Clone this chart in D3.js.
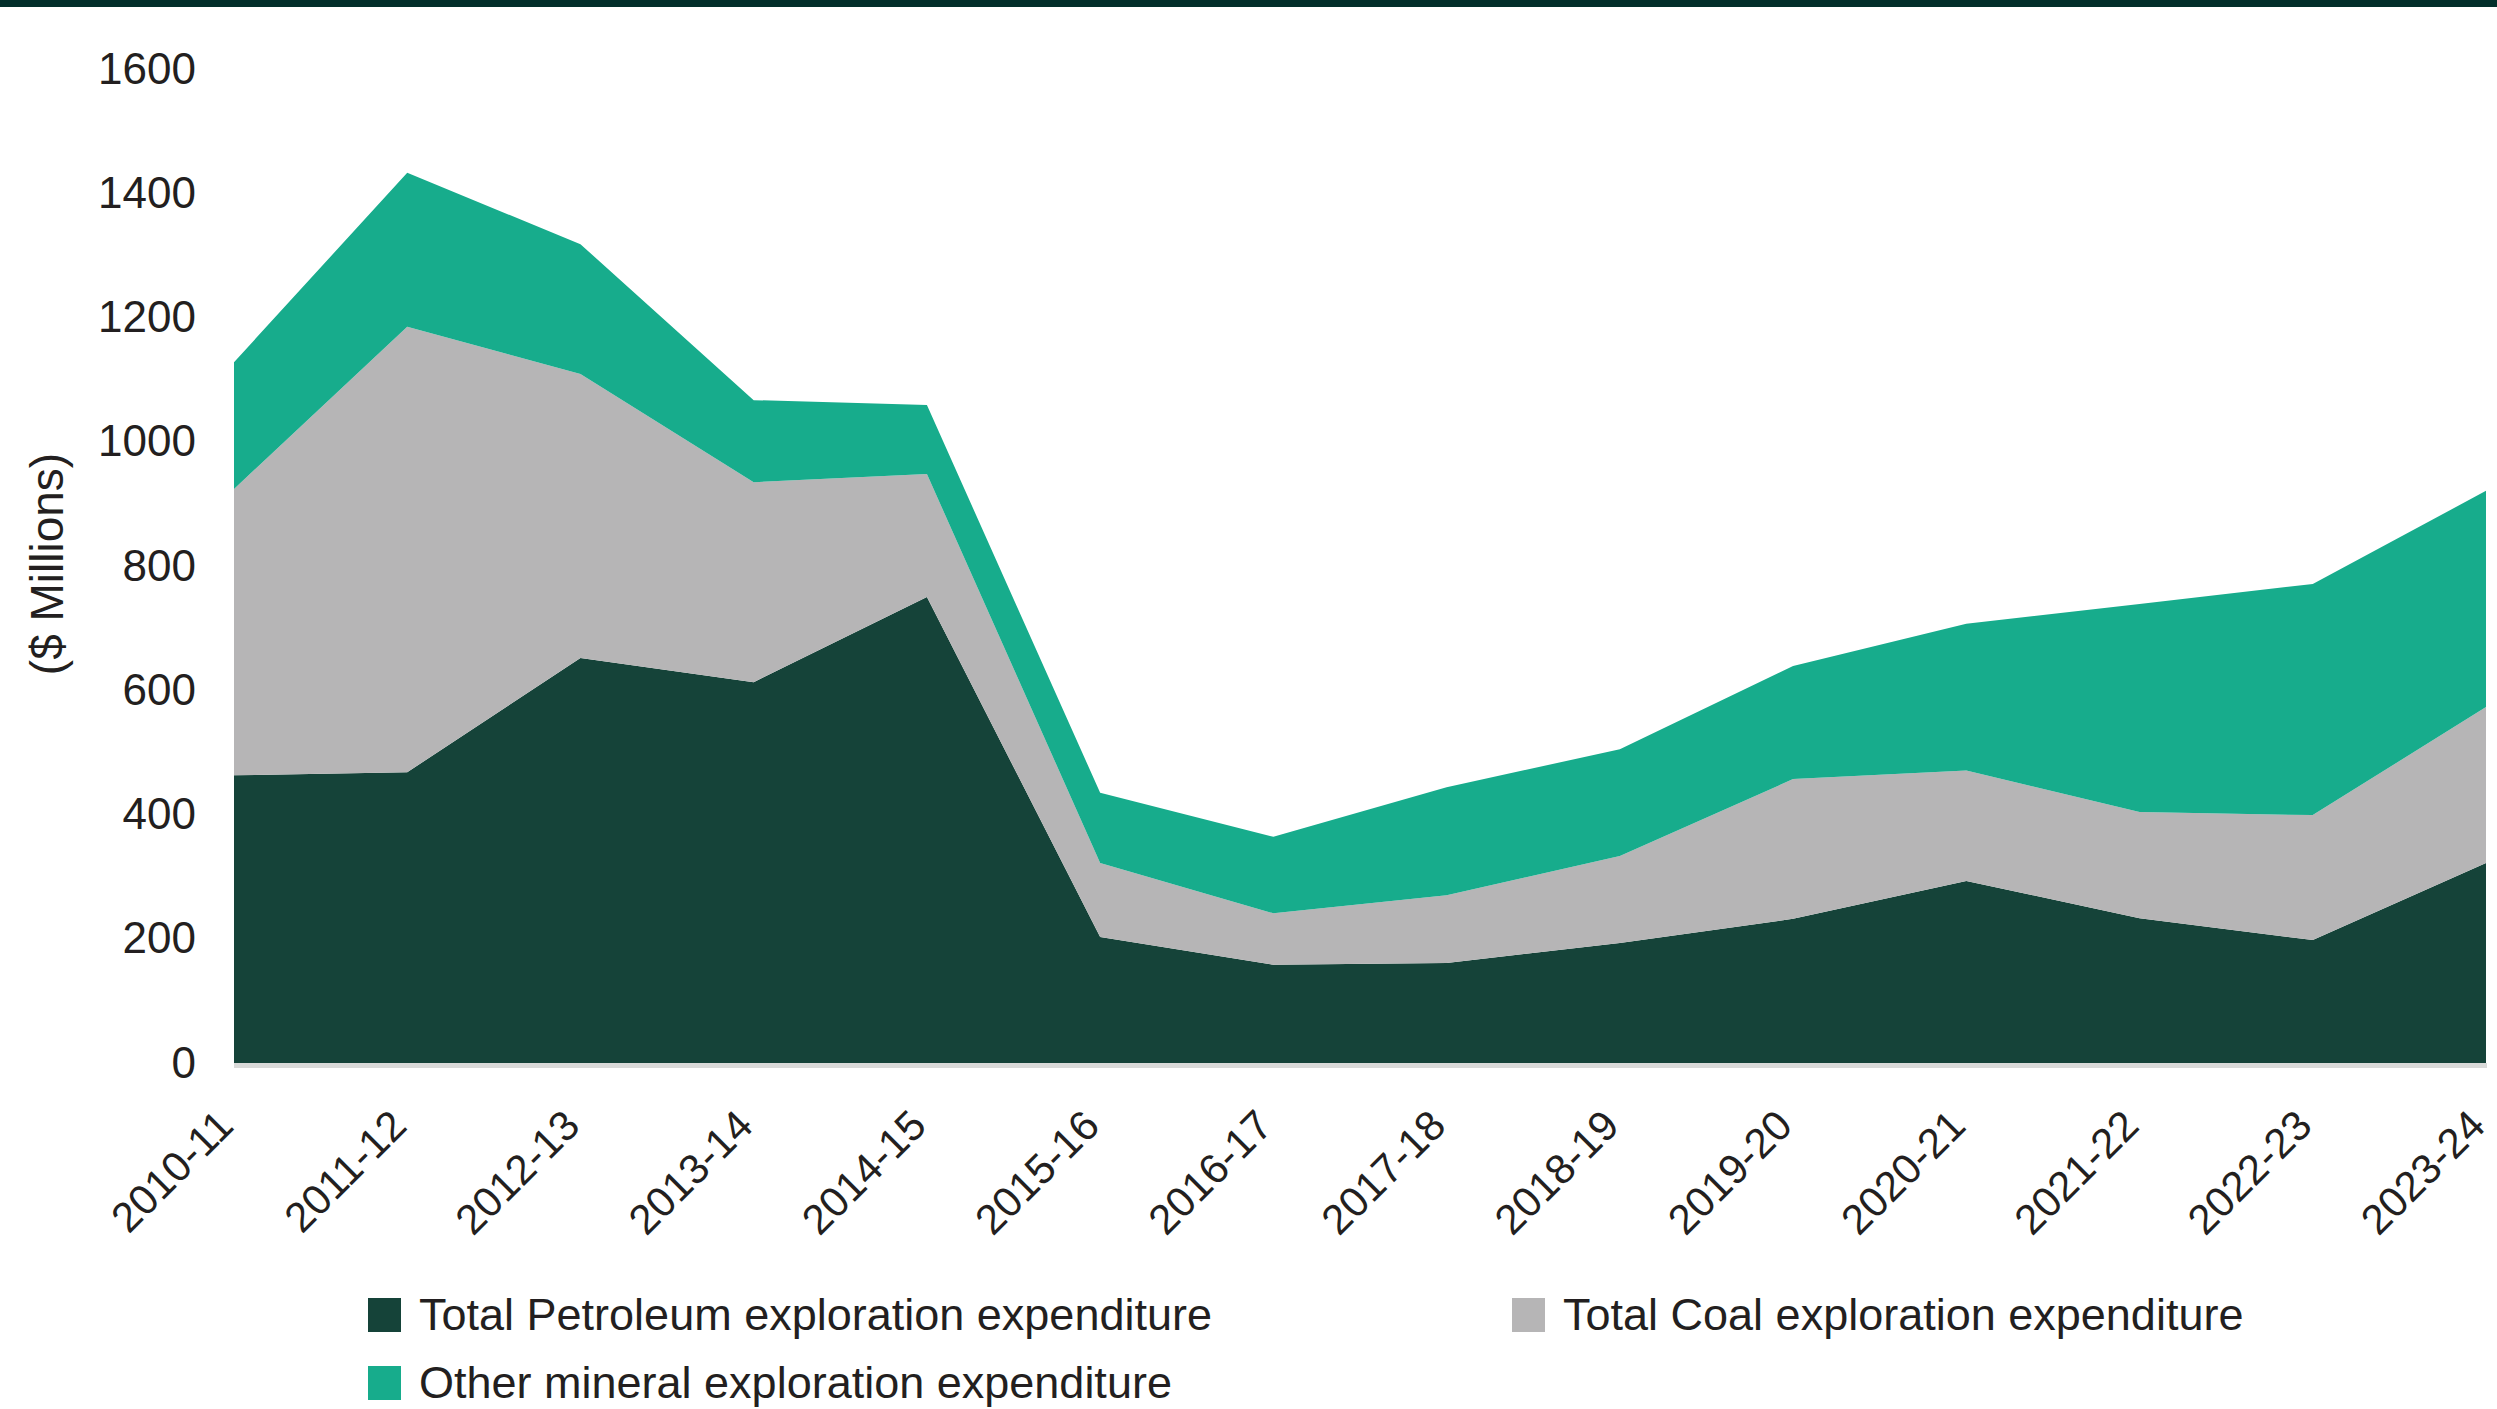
<!DOCTYPE html>
<html>
<head>
<meta charset="utf-8">
<script src="https://cdn.jsdelivr.net/npm/d3@7"></script>
<style>
  html, body { margin: 0; padding: 0; background: #ffffff; }
  svg { display: block; }
  text { font-family: "Liberation Sans", Arial, sans-serif; fill: #231f20; }
</style>
</head>
<body>
<svg id="chart" width="2497" height="1409"></svg>
<script>
// ---- Data (values in $ Millions) ----
const categories = ["2010-11","2011-12","2012-13","2013-14","2014-15","2015-16","2016-17",
                    "2017-18","2018-19","2019-20","2020-21","2021-22","2022-23","2023-24"];
const petroleum = [463, 468, 652, 613, 750, 203, 158, 161, 193, 232, 293, 233, 198, 322];
const coal      = [461, 717, 457, 322, 198, 119,  83, 109, 140, 225, 178, 171, 201, 251];
const other     = [204, 248, 209, 132, 111, 113, 123, 174, 172, 182, 236, 335, 372, 348];
const yTicks    = [0, 200, 400, 600, 800, 1000, 1200, 1400, 1600];
const seriesNames = ["Total Petroleum exploration expenditure",
                     "Total Coal exploration expenditure",
                     "Other mineral exploration expenditure"];
const seriesKeys = ["petroleum", "coal", "other"];
const seriesColors = ["#154339", "#b6b5b6", "#17ac8c"];
const yTitle = "($ Millions)";

// ---- Build table ----
const table = categories.map((c, i) => ({
  cat: c, petroleum: petroleum[i], coal: coal[i], other: other[i]
}));

const svg = d3.select("#chart");

// Top band
svg.append("rect").attr("x", 0).attr("y", 0).attr("width", 2497).attr("height", 7)
   .attr("fill", "#032f2b");

const x = d3.scalePoint().domain(categories).range([234, 2486]);
const y = d3.scaleLinear().domain([0, 1600]).range([1063, 69]);
const color = d3.scaleOrdinal().domain(seriesKeys).range(seriesColors);

const stacked = d3.stack().keys(seriesKeys)(table);
const area = d3.area()
  .x(d => x(d.data.cat))
  .y0(d => y(d[0]))
  .y1(d => y(d[1]));

svg.append("g").selectAll("path").data(stacked).join("path")
  .attr("d", area)
  .attr("fill", d => color(d.key));

// X axis base line
svg.append("line")
  .attr("x1", x.range()[0]).attr("x2", x.range()[1] + 1)
  .attr("y1", y(0) + 2.5).attr("y2", y(0) + 2.5)
  .attr("stroke", "#d9dad9").attr("stroke-width", 5);

// Y axis
const yAxis = svg.append("g")
  .attr("transform", `translate(${x.range()[0]},0)`)
  .call(d3.axisLeft(y).tickValues(yTicks).tickFormat(d3.format("d")).tickSize(0).tickPadding(38));
yAxis.select(".domain").remove();
yAxis.selectAll("text")
  .style("font-family", "'Liberation Sans', Arial, sans-serif")
  .style("font-size", "44px").attr("fill", "#231f20");

// X axis
const xAxis = svg.append("g")
  .attr("transform", `translate(0,${y(0)})`)
  .call(d3.axisBottom(x).tickSize(0));
xAxis.select(".domain").remove();
xAxis.selectAll("text")
  .attr("x", 0).attr("y", 0).attr("dy", 0)
  .attr("transform", "translate(1,65) rotate(-45)")
  .style("text-anchor", "end")
  .style("font-family", "'Liberation Sans', Arial, sans-serif")
  .style("font-size", "42px").attr("fill", "#231f20");

// Y title
svg.append("text")
  .attr("transform", "translate(63,564) rotate(-90)")
  .attr("text-anchor", "middle")
  .style("font-size", "46px")
  .text(yTitle);

// Legend
const legendPos = [
  {x: 368, y: 1298},
  {x: 1512, y: 1298},
  {x: 368, y: 1366}
];
const lg = svg.append("g").selectAll("g").data(seriesKeys).join("g")
  .attr("transform", (d, i) => `translate(${legendPos[i].x},${legendPos[i].y})`);
lg.append("rect").attr("width", 33).attr("height", 34).attr("fill", d => color(d));
lg.append("text").attr("x", 51).attr("y", 32)
  .style("font-size", "45px")
  .text((d, i) => seriesNames[i]);
</script>
</body>
</html>
